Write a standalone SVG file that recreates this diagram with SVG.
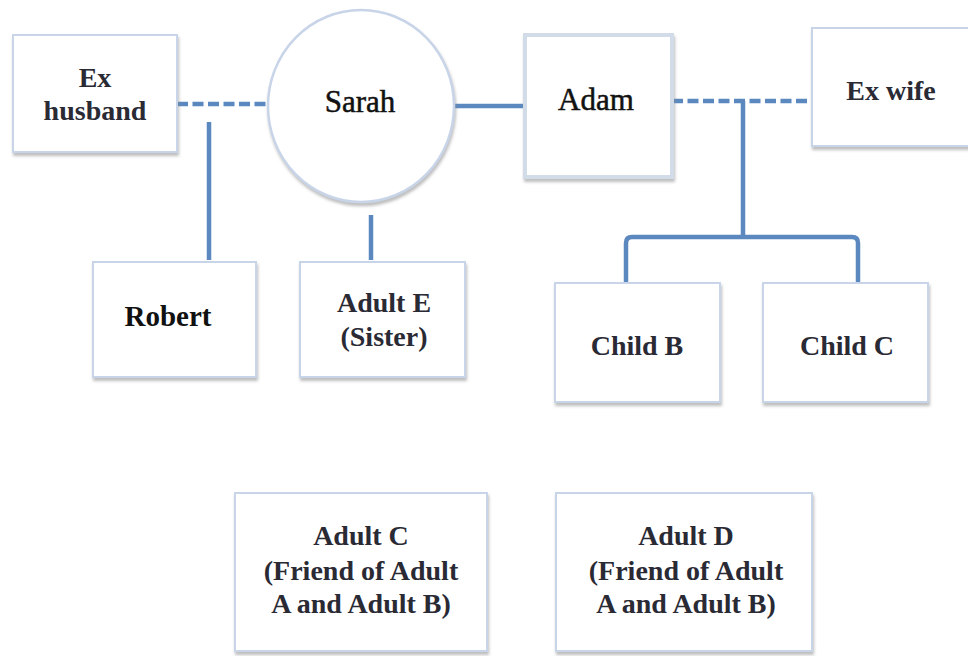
<svg xmlns="http://www.w3.org/2000/svg" width="968" height="656" viewBox="0 0 968 656">
<defs>
<filter id="sh" x="-10%" y="-10%" width="120%" height="130%">
<feDropShadow dx="1" dy="3" stdDeviation="1.5" flood-color="#888" flood-opacity="0.55"/>
</filter>
</defs>
<style>
.box{fill:#fff;stroke:#c8d4e8;stroke-width:2;filter:url(#sh)}
.circ{fill:#fff;stroke:#c8d4e8;stroke-width:2.5;filter:url(#sh)}
.ln{fill:none;stroke:#5b89bf;stroke-width:4.5;stroke-linejoin:round}
.dash{stroke-dasharray:11,4.5}
.g{font-family:"Liberation Serif",serif;font-size:31px;fill:#111;stroke:#111;stroke-width:0.5;text-anchor:middle}
.c{font-family:"Liberation Serif",serif;font-weight:bold;font-size:28px;fill:#2a2a35;text-anchor:middle}
</style>
<rect width="968" height="656" fill="#fff"/>
<g id="connectors">
<path class="ln dash" d="M177,104 H268"/>
<path class="ln" d="M209,122 V260"/>
<path class="ln" d="M453,106 H525"/>
<path class="ln" d="M371,215 V260"/>
<path class="ln dash" d="M672,101 H812"/>
<path class="ln" d="M743,101 V237"/>
<path class="ln" d="M626,282 V243 Q626,237 632,237 H852 Q858,237 858,243 V282"/>
</g>
<g id="ex-husband">
<rect class="box" x="13" y="35" width="164" height="117"/>
<text class="c" x="95" y="87">Ex</text>
<text class="c" x="95" y="120">husband</text>
</g>
<g id="sarah">
<ellipse class="circ" cx="361" cy="106" rx="93" ry="96"/>
<text class="g" x="360" y="112">Sarah</text>
</g>
<g id="adam">
<rect class="box" x="525" y="35" width="147" height="142" style="stroke-width:4;stroke:#d2dbe8"/>
<text class="g" x="596" y="110">Adam</text>
</g>
<g id="ex-wife">
<rect class="box" x="812" y="28" width="160" height="118"/>
<text class="c" x="891" y="100">Ex wife</text>
</g>
<g id="robert">
<rect class="box" x="93" y="262" width="163" height="115"/>
<text class="g" x="168" y="326" style="font-weight:bold;font-size:29px;stroke-width:0">Robert</text>
</g>
<g id="adult-e">
<rect class="box" x="300" y="262" width="165" height="115"/>
<text class="c" x="384" y="312">Adult E</text>
<text class="c" x="384" y="346">(Sister)</text>
</g>
<g id="child-b">
<rect class="box" x="555" y="283" width="165" height="119"/>
<text class="c" x="637" y="355">Child B</text>
</g>
<g id="child-c">
<rect class="box" x="763" y="283" width="165" height="119"/>
<text class="c" x="847" y="355">Child C</text>
</g>
<g id="adult-c">
<rect class="box" x="235" y="493" width="252" height="158"/>
<text class="c" x="361" y="545">Adult C</text>
<text class="c" x="361" y="580">(Friend of Adult</text>
<text class="c" x="361" y="613">A and Adult B)</text>
</g>
<g id="adult-d">
<rect class="box" x="556" y="493" width="256" height="158"/>
<text class="c" x="686" y="545">Adult D</text>
<text class="c" x="686" y="580">(Friend of Adult</text>
<text class="c" x="686" y="613">A and Adult B)</text>
</g>
</svg>
